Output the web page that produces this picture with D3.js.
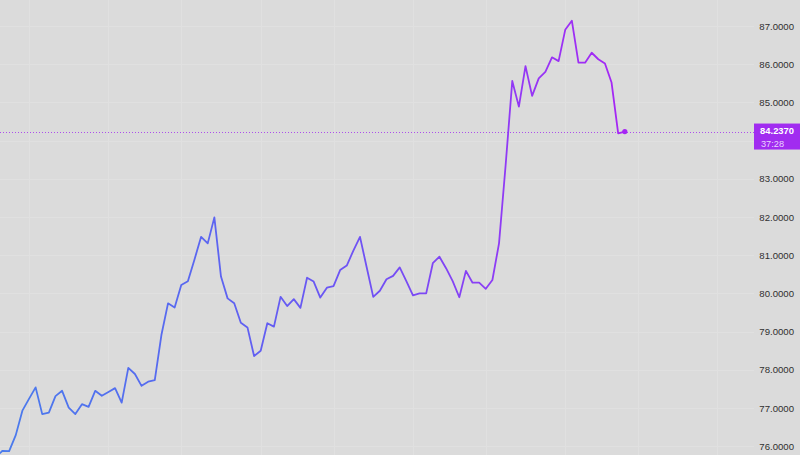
<!DOCTYPE html>
<html>
<head>
<meta charset="utf-8">
<script src="https://cdn.jsdelivr.net/npm/d3@7"></script>
<style>
  html, body { margin: 0; padding: 0; background: #dbdbdb; }
  svg { display: block; }
</style>
</head>
<body>
<div id="chart-container"></div>
<script>
// price per bar
const prices = [
  75.72, 75.88, 75.87, 76.29, 76.93, 77.24, 77.54, 76.84, 76.88, 77.31,
  77.45, 77.01, 76.84, 77.10, 77.03, 77.45, 77.32, 77.42, 77.52, 77.14,
  78.05, 77.89, 77.58, 77.69, 77.73, 78.91, 79.74, 79.63, 80.22, 80.32,
  80.89, 81.48, 81.31, 81.99, 80.44, 79.87, 79.74, 79.23, 79.11, 78.36,
  78.50, 79.22, 79.13, 79.91, 79.67, 79.85, 79.62, 80.41, 80.31, 79.89,
  80.15, 80.19, 80.61, 80.73, 81.12, 81.48, 80.69, 79.91, 80.07, 80.37,
  80.46, 80.68, 80.32, 79.95, 80.00, 80.00, 80.79, 80.96, 80.66, 80.32,
  79.90, 80.59, 80.28, 80.28, 80.12, 80.35, 81.31, 83.36, 85.56, 84.89,
  85.95, 85.17, 85.63, 85.80, 86.18, 86.08, 86.90, 87.14, 86.04, 86.04,
  86.30, 86.13, 86.02, 85.52, 84.19, 84.237
];
const priceTicks = [76, 77, 78, 79, 80, 81, 82, 83, 84, 85, 86, 87];
const timeGridBars = [5, 17, 28, 40, 51, 63, 74, 86, 97, 109];
const lastLabel = "84.2370";
const countdown = "37:28";

const width = 800, height = 455;
const axisX = 754;

const x = d3.scaleLinear()
  .domain([0, prices.length - 1])
  .range([-4.1, 624.8]);

const y = d3.scaleLinear()
  .domain([76, 87])
  .range([446.2, 26]);

const last = prices[prices.length - 1];

const svg = d3.select("#chart-container")
  .append("svg")
    .attr("width", width)
    .attr("height", height);

svg.append("rect")
  .attr("width", width)
  .attr("height", height)
  .attr("fill", "#dbdbdb");

// gridlines
svg.selectAll(".hgrid")
  .data(priceTicks)
  .join("line")
  .attr("x1", 0)
  .attr("x2", axisX)
  .attr("y1", d => Math.round(y(d)) + 0.5)
  .attr("y2", d => Math.round(y(d)) + 0.5)
  .attr("stroke", "#e0e0e0")
  .attr("stroke-width", 1);

svg.selectAll(".vgrid")
  .data(timeGridBars)
  .join("line")
  .attr("x1", d => Math.round(x(d)) + 0.5)
  .attr("x2", d => Math.round(x(d)) + 0.5)
  .attr("y1", 0)
  .attr("y2", height)
  .attr("stroke", "#e0e0e0")
  .attr("stroke-width", 1);

// price axis on the right (ticks under the last-price tag are hidden)
const yAxis = svg.append("g")
  .attr("transform", `translate(${794},0)`)
  .call(d3.axisLeft(y)
    .tickValues(priceTicks.filter(t => Math.abs(y(t) - y(last)) > 14))
    .tickSize(0)
    .tickPadding(0)
    .tickFormat(d3.format(".4f")));
yAxis.select(".domain").remove();
yAxis.selectAll(".tick text")
  .style("font-family", "'Liberation Sans', Arial, sans-serif")
  .style("font-size", "9.6px")
  .attr("fill", "#2f2f2f");

// gradient for the line
const grad = svg.append("defs")
  .append("linearGradient")
  .attr("id", "lineGrad")
  .attr("gradientUnits", "userSpaceOnUse")
  .attr("x1", 0).attr("x2", x(prices.length - 1))
  .attr("y1", 0).attr("y2", 0);
grad.selectAll("stop")
  .data([
    { o: 0, c: "#4a7bec" },
    { o: 0.3, c: "#5968f0" },
    { o: 0.6, c: "#7150f4" },
    { o: 0.85, c: "#9636f5" },
    { o: 1, c: "#a626f4" }
  ])
  .join("stop")
  .attr("offset", d => d.o)
  .attr("stop-color", d => d.c);

// last price dotted line
svg.append("line")
  .attr("x1", 0)
  .attr("x2", axisX)
  .attr("y1", Math.round(y(last)) + 0.5)
  .attr("y2", Math.round(y(last)) + 0.5)
  .attr("stroke", "#a12cf0")
  .attr("stroke-opacity", 0.8)
  .attr("stroke-width", 1)
  .attr("stroke-dasharray", "1,2");

const line = d3.line()
  .x((d, i) => x(i))
  .y(d => y(d));

svg.append("path")
  .datum(prices)
  .attr("fill", "none")
  .attr("stroke", "url(#lineGrad)")
  .attr("stroke-width", 1.8)
  .attr("stroke-linejoin", "round")
  .attr("d", line);

svg.append("circle")
  .attr("cx", x(prices.length - 1))
  .attr("cy", y(last))
  .attr("r", 2.6)
  .attr("fill", "#a626f4");

// last price label
const lbl = svg.append("g");
lbl.append("rect")
  .attr("x", axisX)
  .attr("y", y(last) - 8)
  .attr("width", width - axisX)
  .attr("height", 26)
  .attr("fill", "#a12cf0");
lbl.append("text")
  .attr("x", 794)
  .attr("y", y(last) - 1)
  .attr("dy", "0.35em")
  .attr("text-anchor", "end")
  .style("font-family", "'Liberation Sans', Arial, sans-serif")
  .style("font-size", "9.4px")
  .style("font-weight", "bold")
  .attr("fill", "#ffffff")
  .text(lastLabel);
lbl.append("text")
  .attr("x", 761)
  .attr("y", y(last) + 11.8)
  .attr("dy", "0.35em")
  .attr("text-anchor", "start")
  .style("font-family", "'Liberation Sans', Arial, sans-serif")
  .style("font-size", "9.2px")
  .attr("fill", "#ead6fd")
  .text(countdown);
</script>
</body>
</html>
